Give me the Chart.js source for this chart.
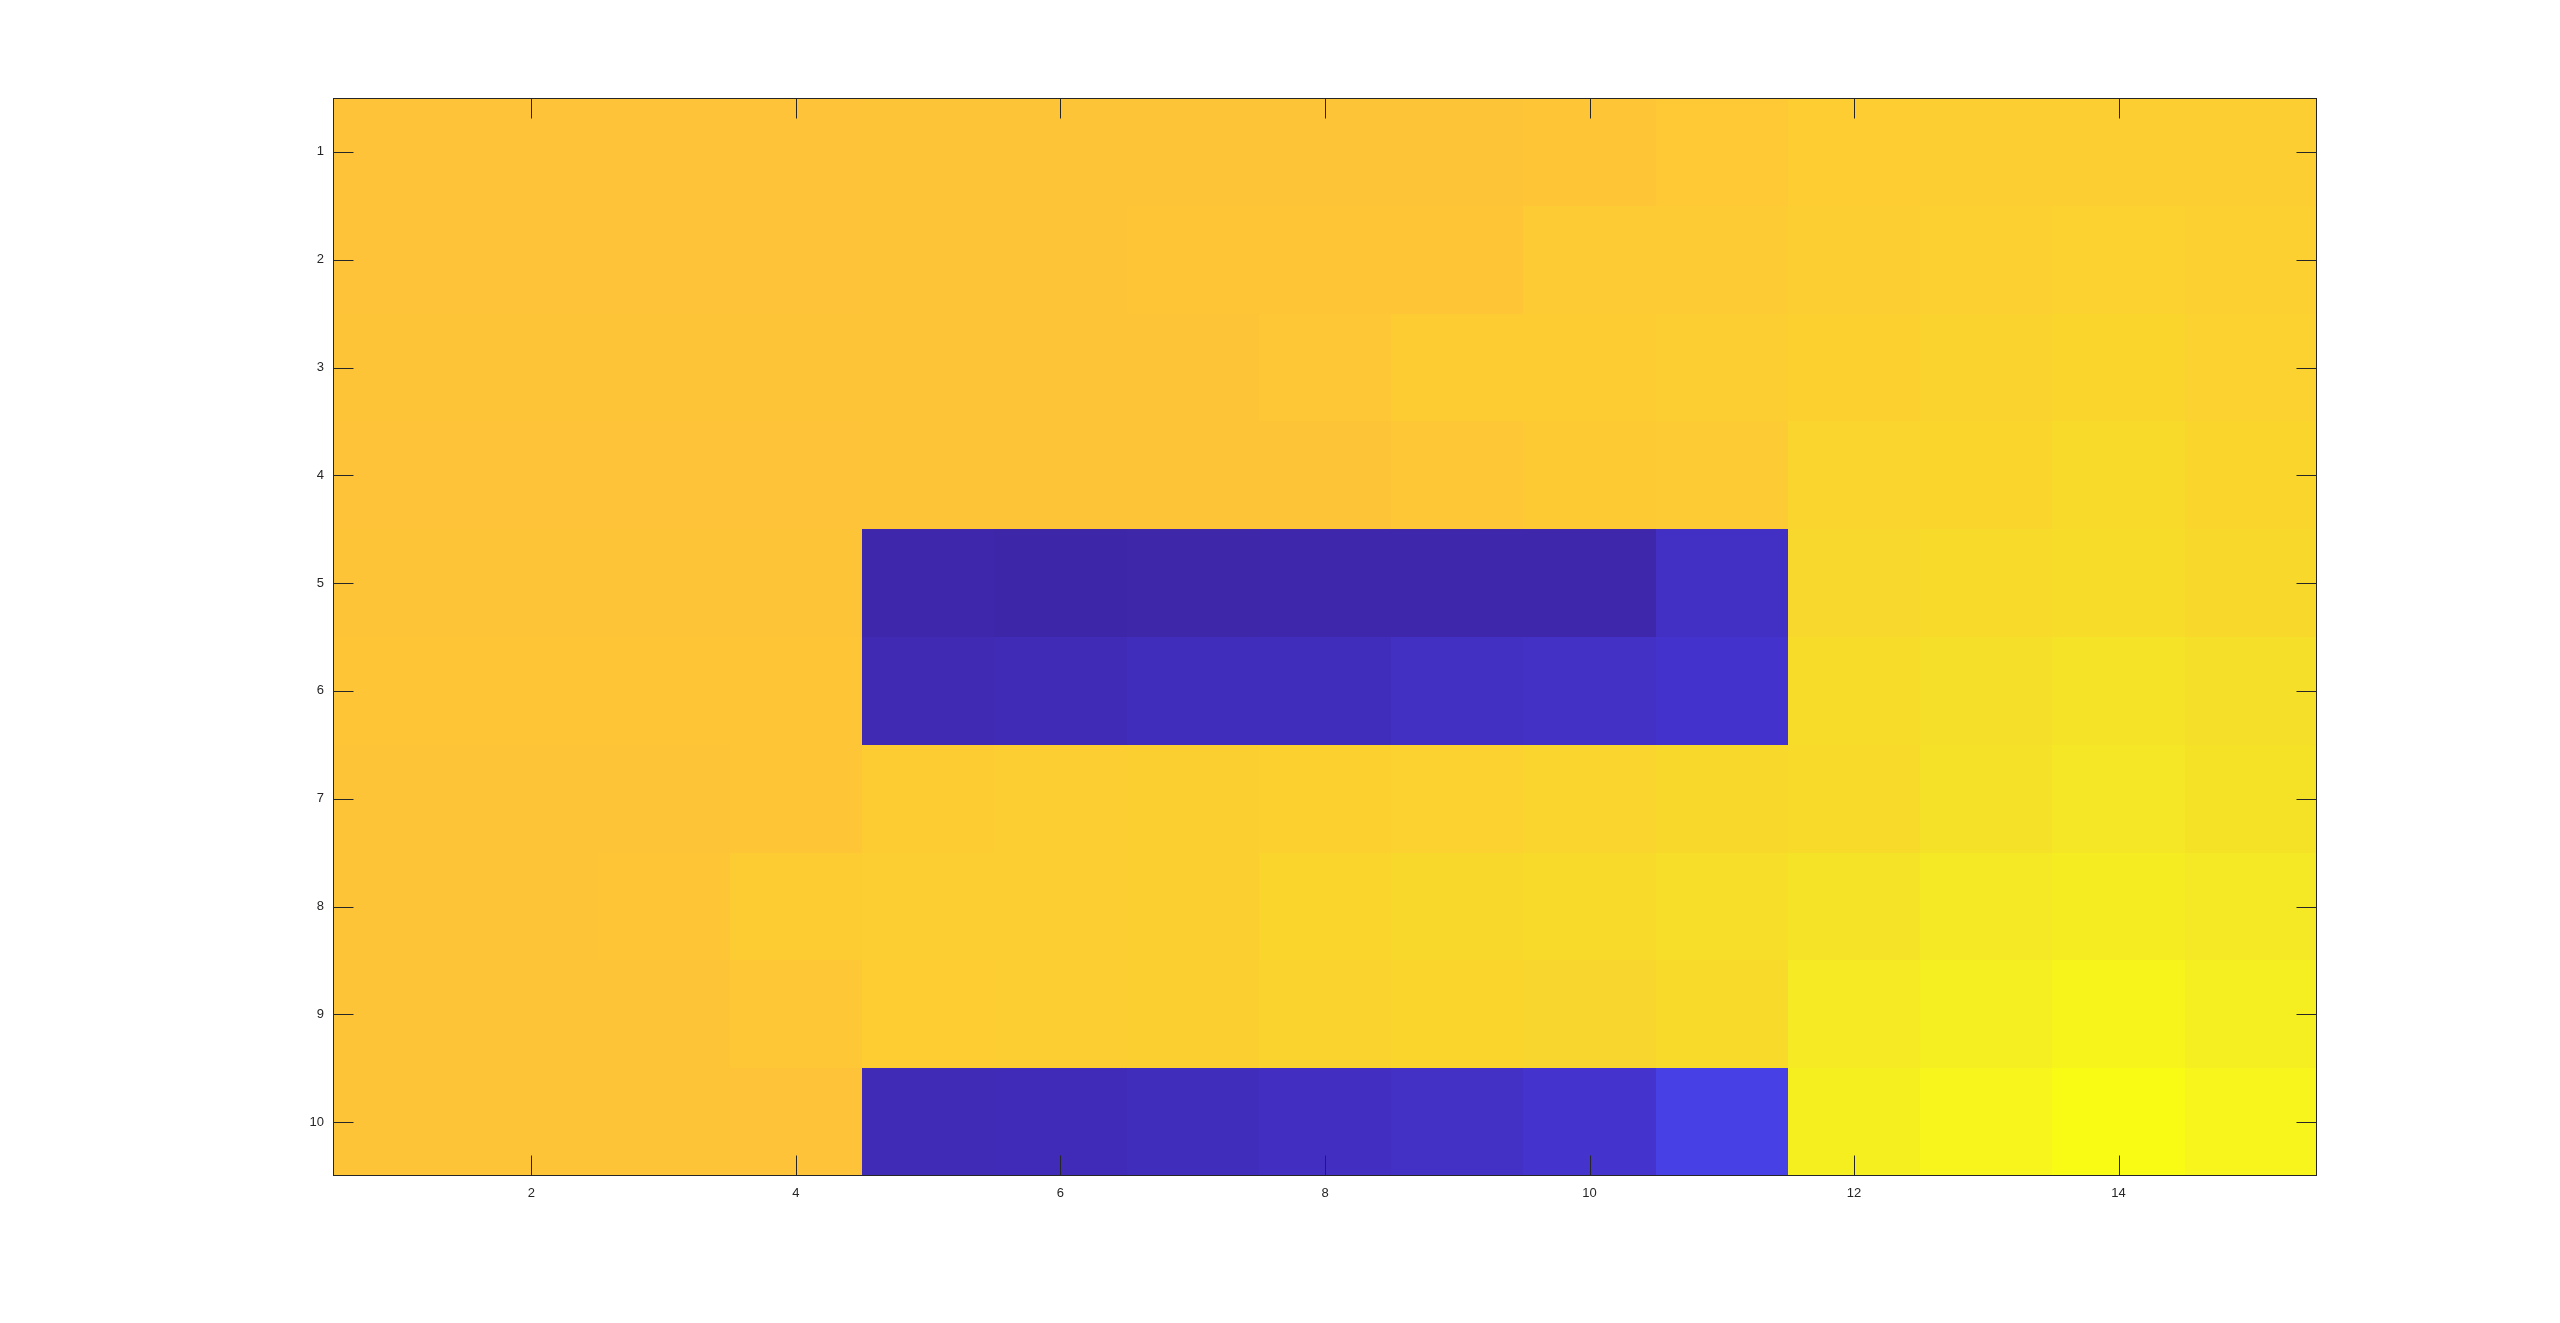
<!DOCTYPE html>
<html>
<head>
<meta charset="utf-8">
<script src="https://cdn.jsdelivr.net/npm/chart.js@4/dist/chart.umd.min.js"></script>
<style>
  html, body { margin: 0; padding: 0; background: #ffffff; }
  #wrap { width: 2560px; height: 1323px; }
</style>
</head>
<body>
<div id="wrap"><canvas id="c" width="2560" height="1323"></canvas></div>
<script>
// ---- data (matrix of values, rows 1..10, columns 1..15) ----
const columns = [1,2,3,4,5,6,7,8,9,10,11,12,13,14,15];
const rows = [1,2,3,4,5,6,7,8,9,10];
const row1  = [55.0,55.0,55.0,55.0,55.1,55.1,55.1,55.2,55.1,55.4,56.0,56.6,56.7,56.8,56.7];
const row2  = [55.0,55.0,55.0,55.0,55.1,55.1,55.3,55.3,55.4,56.2,56.3,56.8,57.1,57.4,57.1];
const row3  = [55.1,55.1,55.1,55.1,55.2,55.2,55.2,55.7,56.4,56.4,56.7,57.2,57.5,58.0,57.4];
const row4  = [55.0,55.0,55.0,55.0,55.1,55.2,55.1,55.1,55.6,56.1,56.2,57.8,58.0,58.6,58.0];
const row5  = [55.2,55.2,55.2,55.2,1.1,1.0,1.05,1.15,1.1,1.25,3.4,58.4,58.7,58.9,58.5];
const row6  = [55.3,55.3,55.3,55.3,2.0,2.2,2.6,2.7,3.3,3.5,4.0,59.0,59.4,60.0,59.4];
const row7  = [55.2,55.2,55.2,55.3,56.5,56.7,56.9,57.2,57.4,57.9,58.3,58.7,59.8,60.5,59.9];
const row8  = [55.1,55.1,55.4,56.5,56.7,56.8,57.0,58.0,58.3,58.7,59.3,60.0,60.8,61.7,60.8];
const row9  = [55.2,55.2,55.2,55.6,56.6,56.8,57.0,57.6,58.0,58.1,58.6,61.2,61.8,62.8,61.8];
const row10 = [55.2,55.2,55.2,55.0,2.1,2.3,2.6,3.1,3.6,4.2,7.0,62.0,63.0,64.0,63.0];
const values = [row1,row2,row3,row4,row5,row6,row7,row8,row9,row10];

// ---- tick labels ----
const xTickValues = [2,4,6,8,10,12,14];
const xTickLabels = ['2','4','6','8','10','12','14'];
const yTickValues = [1,2,3,4,5,6,7,8,9,10];
const yTickLabels = ['1','2','3','4','5','6','7','8','9','10'];

// ---- parula colormap anchors ----
const parula = [
[0.2422,0.1504,0.6603],[0.2504,0.1650,0.7076],[0.2578,0.1818,0.7511],[0.2647,0.1978,0.7952],
[0.2706,0.2147,0.8364],[0.2751,0.2342,0.8710],[0.2783,0.2559,0.8991],[0.2803,0.2782,0.9221],
[0.2813,0.3006,0.9414],[0.2810,0.3228,0.9579],[0.2795,0.3447,0.9717],[0.2760,0.3667,0.9829],
[0.2699,0.3892,0.9906],[0.2602,0.4123,0.9952],[0.2440,0.4358,0.9988],[0.2206,0.4603,0.9973],
[0.1963,0.4847,0.9892],[0.1834,0.5074,0.9798],[0.1786,0.5289,0.9682],[0.1764,0.5499,0.9520],
[0.1687,0.5703,0.9359],[0.1540,0.5902,0.9218],[0.1460,0.6091,0.9079],[0.1380,0.6276,0.8973],
[0.1248,0.6459,0.8883],[0.1113,0.6635,0.8763],[0.0952,0.6798,0.8598],[0.0689,0.6948,0.8394],
[0.0297,0.7082,0.8163],[0.0036,0.7203,0.7917],[0.0067,0.7312,0.7660],[0.0433,0.7411,0.7394],
[0.0964,0.7500,0.7120],[0.1408,0.7584,0.6842],[0.1717,0.7670,0.6554],[0.1938,0.7758,0.6251],
[0.2161,0.7843,0.5923],[0.2470,0.7918,0.5567],[0.2906,0.7973,0.5188],[0.3406,0.8008,0.4789],
[0.3909,0.8029,0.4354],[0.4456,0.8024,0.3909],[0.5044,0.7993,0.3480],[0.5616,0.7942,0.3045],
[0.6174,0.7876,0.2612],[0.6720,0.7793,0.2227],[0.7242,0.7698,0.1910],[0.7738,0.7598,0.1646],
[0.8203,0.7498,0.1535],[0.8634,0.7406,0.1596],[0.9035,0.7330,0.1774],[0.9393,0.7288,0.2100],
[0.9728,0.7298,0.2394],[0.9956,0.7434,0.2371],[0.9970,0.7659,0.2199],[0.9952,0.7893,0.2028],
[0.9892,0.8136,0.1885],[0.9786,0.8386,0.1766],[0.9676,0.8639,0.1643],[0.9610,0.8890,0.1537],
[0.9597,0.9135,0.1423],[0.9628,0.9373,0.1265],[0.9691,0.9606,0.1064],[0.9769,0.9839,0.0805]
];
function parulaColor(t) {
  t = Math.max(0, Math.min(1, t));
  const f = t * (parula.length - 1);
  const i = Math.min(parula.length - 2, Math.floor(f));
  const u = f - i;
  const a = parula[i], b = parula[i + 1];
  const c = a.map((v, k) => Math.round(255 * (v + (b[k] - v) * u)));
  return 'rgb(' + c[0] + ',' + c[1] + ',' + c[2] + ')';
}

const cells = [];
values.forEach((r, ri) => r.forEach((v, ci) => cells.push({ x: columns[ci], y: rows[ri], v: v })));

const axisColor = '#262626';
const tickLen = 20;

const heatmapPlugin = {
  id: 'heatmap',
  beforeDatasetsDraw(chart) {
    const ctx = chart.ctx, x = chart.scales.x, y = chart.scales.y;
    const flat = values.flat();
    const vmin = Math.min(...flat), vmax = Math.max(...flat);
    ctx.save();
    chart.data.datasets[0].data.forEach(p => {
      const x0 = Math.round(x.getPixelForValue(p.x - 0.5));
      const x1 = Math.round(x.getPixelForValue(p.x + 0.5));
      const y0 = Math.round(y.getPixelForValue(p.y - 0.5));
      const y1 = Math.round(y.getPixelForValue(p.y + 0.5));
      ctx.fillStyle = parulaColor((p.v - vmin) / (vmax - vmin));
      ctx.fillRect(Math.min(x0, x1), Math.min(y0, y1), Math.abs(x1 - x0), Math.abs(y1 - y0));
    });
    ctx.restore();
  },
  afterDatasetsDraw(chart) {
    const ctx = chart.ctx, x = chart.scales.x, y = chart.scales.y;
    const a = chart.chartArea;
    const L = Math.round(a.left) + 0.5, R = Math.round(a.right) - 0.5;
    const T = Math.round(a.top) + 0.5, B = Math.round(a.bottom) - 0.5;
    ctx.save();
    ctx.strokeStyle = axisColor;
    ctx.lineWidth = 1;
    ctx.beginPath();
    xTickValues.forEach(v => {
      const px = Math.round(x.getPixelForValue(v)) + 0.5;
      ctx.moveTo(px, B); ctx.lineTo(px, B - tickLen);
      ctx.moveTo(px, T); ctx.lineTo(px, T + tickLen);
    });
    yTickValues.forEach(v => {
      const py = Math.round(y.getPixelForValue(v)) + 0.5;
      ctx.moveTo(L, py); ctx.lineTo(L + tickLen, py);
      ctx.moveTo(R, py); ctx.lineTo(R - tickLen, py);
    });
    ctx.stroke();
    ctx.strokeRect(L, T, R - L, B - T);
    ctx.restore();
  }
};

const tickFont = { family: '"Liberation Sans", Arial, Helvetica, sans-serif', size: 13 };

new Chart(document.getElementById('c'), {
  type: 'scatter',
  data: { datasets: [{ data: cells, pointRadius: 0, pointHoverRadius: 0, showLine: false }] },
  options: {
    responsive: false,
    animation: false,
    devicePixelRatio: 1,
    layout: { padding: { top: 98, right: 243, bottom: 0, left: 0 } },
    plugins: { legend: { display: false }, tooltip: { enabled: false } },
    scales: {
      x: {
        type: 'linear', position: 'bottom', min: 0.5, max: 15.5,
        grid: { display: false, drawTicks: false },
        border: { display: false },
        afterBuildTicks: s => { s.ticks = xTickValues.map(v => ({ value: v })); },
        afterFit: s => { s.height = 147; },
        ticks: {
          autoSkip: false, maxRotation: 0, padding: 10, color: axisColor, font: tickFont,
          callback: (v) => { const i = xTickValues.indexOf(v); return i >= 0 ? xTickLabels[i] : ''; }
        }
      },
      y: {
        type: 'linear', position: 'left', min: 0.5, max: 10.5, reverse: true,
        grid: { display: false, drawTicks: false },
        border: { display: false },
        afterBuildTicks: s => { s.ticks = yTickValues.map(v => ({ value: v })); },
        afterFit: s => { s.width = 333; },
        ticks: {
          autoSkip: false, padding: 9, color: axisColor, font: tickFont,
          callback: (v) => { const i = yTickValues.indexOf(v); return i >= 0 ? yTickLabels[i] : ''; }
        }
      }
    }
  },
  plugins: [heatmapPlugin]
});
</script>
</body>
</html>
